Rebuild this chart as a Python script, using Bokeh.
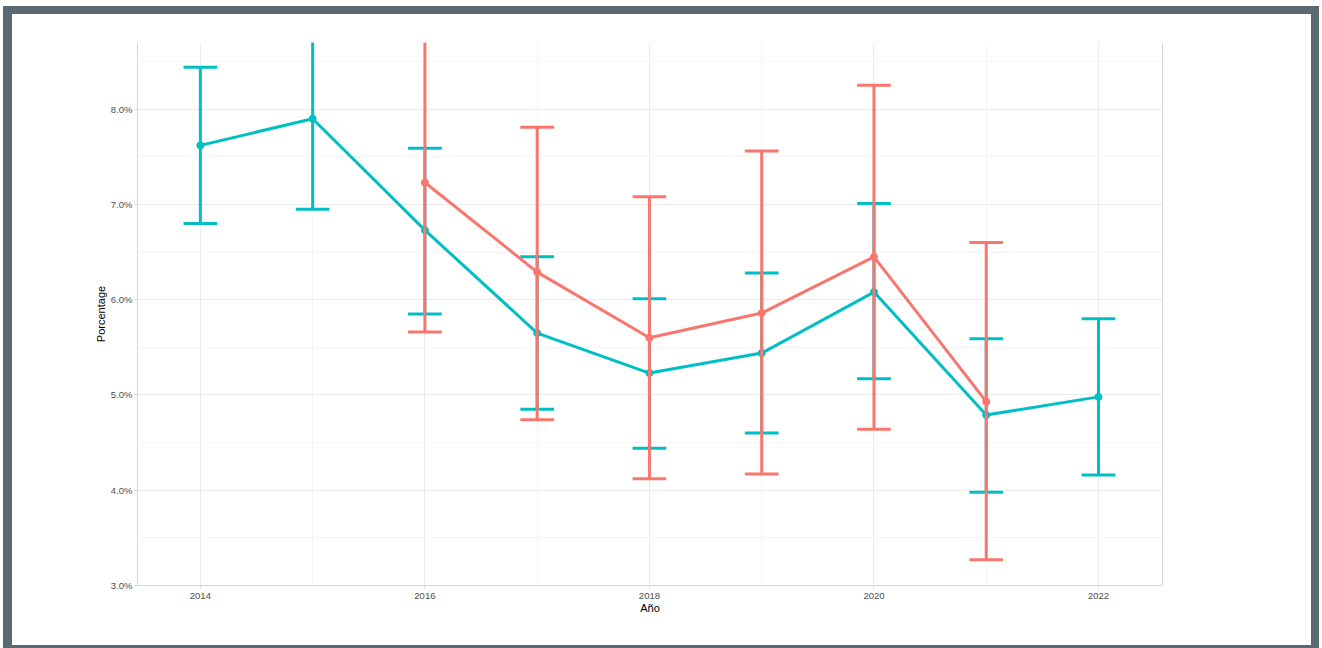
from bokeh.plotting import figure
from bokeh.models import (FixedTicker, PrintfTickFormatter, LinearAxis,
                          Range1d, ColumnDataSource)
from bokeh.embed import file_html
from bokeh.resources import INLINE

# ---- data (percent) ----
years_a = [2014, 2015, 2016, 2017, 2018, 2019, 2020, 2021, 2022]
mean_a = [7.62, 7.90, 6.73, 5.65, 5.23, 5.44, 6.08, 4.79, 4.98]
low_a = [6.80, 6.95, 5.85, 4.85, 4.44, 4.60, 5.17, 3.98, 4.16]
high_a = [8.44, 8.85, 7.59, 6.45, 6.01, 6.28, 7.01, 5.59, 5.80]

years_b = [2016, 2017, 2018, 2019, 2020, 2021]
mean_b = [7.23, 6.29, 5.60, 5.86, 6.45, 4.93]
low_b = [5.66, 4.74, 4.12, 4.17, 4.64, 3.27]
high_b = [8.80, 7.81, 7.08, 7.56, 8.25, 6.60]

y_ticks = [3, 4, 5, 6, 7, 8]
y_minor = [3.5, 4.5, 5.5, 6.5, 7.5, 8.5]
x_ticks = [2014, 2016, 2018, 2020, 2022]
x_minor = [2015, 2017, 2019, 2021]

x_title = "Año"
y_title = "Porcentage"

TEAL = "#00BFC4"
SALMON = "#F8766D"
FRAME = "#5a6a70"
CAP = 0.15
FONT = "Liberation Sans"

p = figure(width=1299, height=631, output_backend="svg", toolbar_location=None,
           x_range=Range1d(2013.44, 2022.57), y_range=Range1d(3.0, 8.70),
           min_border_left=125, min_border_right=166, min_border_top=28,
           min_border_bottom=76)
p.outline_line_color = None
p.background_fill_color = "white"
p.border_fill_color = "white"
p.styles = {"margin": "6px 0px 0px 3px", "border-style": "solid",
            "border-color": FRAME, "border-width": "8px 8px 8px 9px",
            "box-sizing": "content-box"}

# grids
p.xgrid.ticker = FixedTicker(ticks=x_ticks, minor_ticks=x_minor)
p.ygrid.ticker = FixedTicker(ticks=y_ticks, minor_ticks=y_minor)
for g in (p.xgrid, p.ygrid):
    g.grid_line_color = "#ebebeb"
    g.grid_line_width = 1
    g.minor_grid_line_color = "#f5f5f5"
    g.minor_grid_line_width = 1

# axes
xa = p.xaxis[0]
ya = p.yaxis[0]
xa.ticker = FixedTicker(ticks=x_ticks)
ya.ticker = FixedTicker(ticks=y_ticks)
ya.formatter = PrintfTickFormatter(format="%.1f%%")
for ax in (xa, ya):
    ax.axis_line_color = "#d6d6d6"
    ax.axis_line_width = 1
    ax.major_tick_line_color = "#d6d6d6"
    ax.major_tick_in = 0
    ax.major_tick_out = 3
    ax.minor_tick_line_color = None
    ax.major_label_text_font = FONT
    ax.major_label_text_font_size = "9.5px"
    ax.major_label_text_color = "#4d4d4d"
    ax.axis_label_text_font = FONT
    ax.axis_label_text_font_size = "11px"
    ax.axis_label_text_font_style = "normal"
    ax.axis_label_text_color = "black"
xa.axis_label = x_title
ya.axis_label = y_title
xa.major_label_standoff = 4
xa.axis_label_standoff = 0
ya.major_label_standoff = 2
ya.axis_label_standoff = 1

ra = LinearAxis(ticker=FixedTicker(ticks=[]), major_label_text_font_size="0px",
                axis_line_color="#d6d6d6", major_tick_line_color=None,
                minor_tick_line_color=None)
p.add_layout(ra, "right")


def draw(years, mean, low, high, color):
    src = ColumnDataSource(dict(
        x=years, m=mean, lo=low, hi=high,
        xl=[y - CAP for y in years], xr=[y + CAP for y in years]))
    p.line("x", "m", source=src, line_color=color, line_width=3, line_join="round")
    p.scatter("x", "m", source=src, size=7, fill_color=color, line_color=color)
    p.segment(x0="x", y0="lo", x1="x", y1="hi", source=src, line_color=color, line_width=3)
    p.segment(x0="xl", y0="hi", x1="xr", y1="hi", source=src, line_color=color, line_width=3)
    p.segment(x0="xl", y0="lo", x1="xr", y1="lo", source=src, line_color=color, line_width=3)


draw(years_a, mean_a, low_a, high_a, TEAL)
draw(years_b, mean_b, low_b, high_b, SALMON)

open("out.html", "w").write(file_html(p, INLINE))
